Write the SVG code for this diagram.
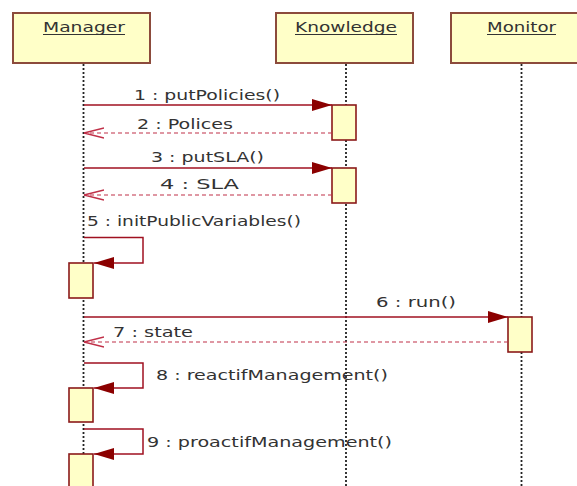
<svg xmlns="http://www.w3.org/2000/svg" width="577" height="486" viewBox="0 0 577 486">
<defs>
<style>
.hdr{fill:#ffffc8;stroke:#8c4b3c;stroke-width:2}
.ht{font-family:"DejaVu Sans",Verdana,sans-serif;font-size:13.5px;fill:#333}
.ul{stroke:#333;stroke-width:1}
.life{stroke:#222;stroke-width:1.8;stroke-dasharray:2,2;fill:none}
.act{fill:#ffffc8;stroke:#8b1a1a;stroke-width:1.6}
.msg{stroke:#a01020;stroke-width:1.5;fill:none}
.ret{stroke:#c03048;stroke-width:1.2;stroke-dasharray:4,3;fill:none}
.lbl{font-family:"DejaVu Sans",Verdana,sans-serif;font-size:13.5px;fill:#333}
</style>
<marker id="fill" markerUnits="userSpaceOnUse" markerWidth="22" markerHeight="14" refX="20" refY="6" orient="auto">
<path d="M0,0 L20,6 L0,12 z" fill="#8b0000"/>
</marker>
<marker id="open" markerUnits="userSpaceOnUse" markerWidth="22" markerHeight="14" refX="20" refY="6" orient="auto">
<path d="M0,1 L20,6 L0,11" fill="none" stroke="#c03048" stroke-width="1.3"/>
</marker>
</defs>
<rect width="577" height="486" fill="#fff"/>
<g id="lifelines">
<line class="life" x1="83.5" y1="64" x2="83.5" y2="486"/>
<line class="life" x1="346" y1="64" x2="346" y2="486"/>
<line class="life" x1="521.5" y1="64" x2="521.5" y2="486"/>
</g>
<g id="manager">
<rect class="hdr" x="13" y="13" width="137" height="50"/>
<text class="ht" x="43" y="32" textLength="82" lengthAdjust="spacingAndGlyphs">Manager</text>
<line class="ul" x1="43" y1="34.5" x2="125" y2="34.5"/>
</g>
<g id="knowledge">
<rect class="hdr" x="276" y="13" width="137" height="50"/>
<text class="ht" x="295" y="32" textLength="102" lengthAdjust="spacingAndGlyphs">Knowledge</text>
<line class="ul" x1="295" y1="34.5" x2="397" y2="34.5"/>
</g>
<g id="monitor">
<rect class="hdr" x="451" y="13" width="140" height="50"/>
<text class="ht" x="487" y="32" textLength="69" lengthAdjust="spacingAndGlyphs">Monitor</text>
<line class="ul" x1="487" y1="34.5" x2="556" y2="34.5"/>
</g>
<g id="activations">
<rect class="act" x="332" y="105" width="24" height="35"/>
<rect class="act" x="332" y="168" width="24" height="35"/>
<rect class="act" x="69" y="263" width="24" height="35"/>
<rect class="act" x="508" y="317" width="24" height="35"/>
<rect class="act" x="69" y="388" width="24" height="34"/>
<rect class="act" x="69" y="454" width="24" height="40"/>
</g>
<g id="connectors">
<line class="msg" x1="84" y1="105" x2="332" y2="105" marker-end="url(#fill)"/>
<line class="ret" x1="332" y1="133" x2="84" y2="133" marker-end="url(#open)"/>
<line class="msg" x1="84" y1="168" x2="332" y2="168" marker-end="url(#fill)"/>
<line class="ret" x1="332" y1="195" x2="84" y2="195" marker-end="url(#open)"/>
<path class="msg" d="M84,237.5 H143 V263 H94" marker-end="url(#fill)"/>
<line class="msg" x1="84" y1="317" x2="508" y2="317" marker-end="url(#fill)"/>
<line class="ret" x1="508" y1="342" x2="84" y2="342" marker-end="url(#open)"/>
<path class="msg" d="M84,363 H143 V388 H94" marker-end="url(#fill)"/>
<path class="msg" d="M84,429 H143 V454 H94" marker-end="url(#fill)"/>
</g>
<g id="labels">
<text class="lbl" x="134" y="100" textLength="146" lengthAdjust="spacingAndGlyphs">1 : putPolicies()</text>
<text class="lbl" x="137" y="129" textLength="96" lengthAdjust="spacingAndGlyphs">2 : Polices</text>
<text class="lbl" x="151" y="162" textLength="113" lengthAdjust="spacingAndGlyphs">3 : putSLA()</text>
<text class="lbl" x="160" y="189" textLength="79" lengthAdjust="spacingAndGlyphs">4 : SLA</text>
<text class="lbl" x="87" y="226" textLength="214" lengthAdjust="spacingAndGlyphs">5 : initPublicVariables()</text>
<text class="lbl" x="376" y="307" textLength="80" lengthAdjust="spacingAndGlyphs">6 : run()</text>
<text class="lbl" x="113" y="337" textLength="80" lengthAdjust="spacingAndGlyphs">7 : state</text>
<text class="lbl" x="156" y="380" textLength="232" lengthAdjust="spacingAndGlyphs">8 : reactifManagement()</text>
<text class="lbl" x="147" y="447" textLength="245" lengthAdjust="spacingAndGlyphs">9 : proactifManagement()</text>
</g>
</svg>
